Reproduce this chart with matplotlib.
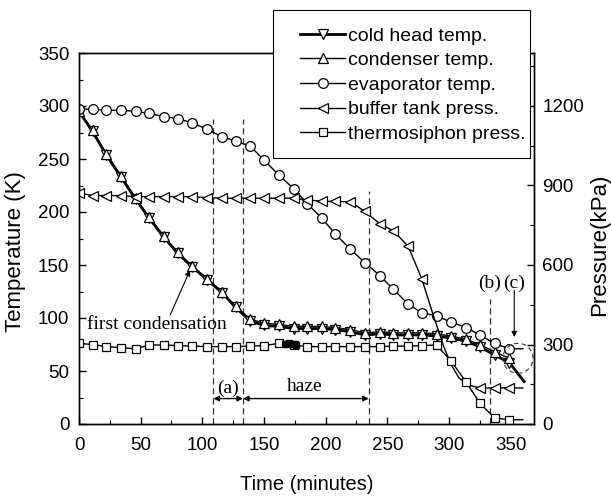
import matplotlib
matplotlib.use("Agg")
import matplotlib.pyplot as plt
from matplotlib.patches import Ellipse, Rectangle
from matplotlib.ticker import MultipleLocator

plt.rcParams['font.family'] = ['Liberation Sans', 'DejaVu Sans']

# ---------------- data ----------------
t_mark = [0, 11, 22, 34, 46, 57, 69, 80, 92, 104, 116, 127, 139, 150, 162, 174,
          185, 197, 208, 220, 232, 244, 255, 267, 278, 290, 302, 314, 325, 337, 349]

condenser_T = [295, 277, 255, 234, 213, 195, 177, 162, 149, 137, 125, 111, 99, 95, 94, 92,
               92, 92, 91, 89, 86, 87, 86, 86, 86, 85, 83, 80, 75, 68, 62]

coldhead_t = t_mark + [361]
coldhead_T = [295, 276, 254, 233, 212, 194, 176, 161, 148, 136, 124, 110, 97, 93, 92, 90,
              90, 90, 89, 87, 84, 85, 84, 84, 84, 83, 81, 78, 73, 65, 58, 40]

evap_t = t_mark + [360]
evap_T = [297, 297, 296, 296, 295, 293, 290, 288, 284, 278, 271, 267, 262, 249, 235, 222,
          208, 194, 179, 165, 152, 140, 127, 113, 105, 102, 96, 91, 84, 76, 71, 71]

buffer_t = [0, 11, 22, 34, 46, 57, 69, 80, 92, 104, 116, 127, 139, 150, 162, 174,
            185, 197, 208, 220, 232, 244, 255, 267, 278,
            287, 296, 302, 308, 315,
            325, 337, 349, 360]
buffer_P = [872, 862, 862, 862, 858, 858, 858, 858, 858, 854, 852, 852, 852, 852, 852, 852,
            846, 840, 840, 838, 802, 755, 729, 670, 548,
            415, 290, 222, 175, 148,
            136, 136, 136, 136]
buffer_marked = list(range(0, 25)) + [30, 31, 32]

thermo_t = t_mark + [360]
thermo_P = [304, 300, 292, 288, 284, 298, 298, 296, 294, 292, 292, 292, 294, 296, 304, 298,
            292, 292, 292, 292, 292, 292, 294, 294, 296, 298, 236, 158, 79, 23, 16, 16]
thermo_fill_t = [167, 170, 173, 176]
thermo_fill_P = [302, 305, 303, 300]

events = [109, 133, 235, 333]          # (a) start, (a) end/haze start, haze end, (b)
event_top = [288, 288, 220, 118]

# ---------------- figure ----------------
W, H = 611, 497
fig = plt.figure(figsize=(W / 100, H / 100), dpi=100)
L, R, T, B = 79, 534, 53, 424
ax = fig.add_axes([L / W, (H - B) / H, (R - L) / W, (B - T) / H])
ax2 = ax.twinx()

ms = 7
mk = dict(markerfacecolor='white', markeredgecolor='black', markeredgewidth=0.9, color='black')

h1, = ax.plot(coldhead_t, coldhead_T, marker='v', markersize=ms, lw=2.0,
              markevery=list(range(len(t_mark))), label='cold head temp.', **mk)
h2, = ax.plot(t_mark, condenser_T, marker='^', markersize=ms, lw=1.0,
              label='condenser temp.', **mk)
h3, = ax.plot(evap_t, evap_T, marker='o', markersize=ms, lw=1.0,
              markevery=list(range(len(t_mark))), label='evaporator temp.', **mk)
h4, = ax2.plot(buffer_t, buffer_P, marker='<', markersize=ms, lw=1.0,
               markevery=buffer_marked, label='buffer tank press.', **mk)
h5, = ax2.plot(thermo_t, thermo_P, marker='s', markersize=6, lw=1.0,
               markevery=list(range(len(t_mark))), label='thermosiphon press.', **mk)
ax2.plot(thermo_fill_t, thermo_fill_P, marker='s', markersize=4, lw=2, color='black',
         markerfacecolor='black', markeredgecolor='black')

ax.set_xlim(0, 369)
ax.set_ylim(0, 350)
ax2.set_ylim(0, 1400)

ax.xaxis.set_major_locator(MultipleLocator(50))
ax.xaxis.set_minor_locator(MultipleLocator(25))
ax.yaxis.set_major_locator(MultipleLocator(50))
ax.yaxis.set_minor_locator(MultipleLocator(25))
ax2.yaxis.set_major_locator(MultipleLocator(300))
ax2.yaxis.set_minor_locator(MultipleLocator(150))

ax.tick_params(axis='both', which='both', direction='in', top=False, right=False)
ax.tick_params(axis='both', which='major', length=5, width=1, labelsize=13.5)
ax.tick_params(axis='both', which='minor', length=3, width=0.8)
ax.tick_params(axis='x', which='major', pad=9)
ax.tick_params(axis='y', which='major', pad=7)
ax2.tick_params(axis='y', which='both', direction='in')
ax2.tick_params(axis='y', which='major', length=5, width=1, labelsize=13.5, pad=6)
ax2.tick_params(axis='y', which='minor', length=3, width=0.8)

for a in (ax, ax2):
    for s in a.spines.values():
        s.set_linewidth(1.0)

fig.text(306.5 / W, 1 - 485 / H, 'Time (minutes)', ha='center', va='center', fontsize=14.5)
fig.text(16 / W, 1 - 252 / H, 'Temperature (K)', ha='center', va='center',
         rotation=90, fontsize=16)
fig.text(600 / W, 1 - 245 / H, 'Pressure(kPa)', ha='center', va='center',
         rotation=90, fontsize=16)

# event lines
for x, top in zip(events, event_top):
    ax.plot([x, x], [0, top], ls=(0, (5, 3)), color='#333333', lw=0.9, zorder=1)

# arrows for (a) and haze
arr = dict(arrowstyle='<|-|>', color='black', lw=1.0, mutation_scale=8,
           shrinkA=0, shrinkB=0)
ax.annotate('', xy=(events[0], 24), xytext=(events[1], 24), arrowprops=arr)
ax.annotate('', xy=(events[1], 24), xytext=(events[2], 24), arrowprops=arr)

serif = ['Liberation Serif', 'DejaVu Serif']
ax.text(121, 34, '(a)', ha='center', va='center', fontsize=14, family=serif)
ax.text(183, 35, 'haze', ha='center', va='center', fontsize=14, family=serif)
ax.text(63, 93.5, 'first condensation', ha='center', va='center', fontsize=14, family=serif)
ax.text(333, 133, '(b)', ha='center', va='center', fontsize=14, family=serif)
ax.text(353, 133, '(c)', ha='center', va='center', fontsize=14, family=serif)

ax.annotate('', xy=(90, 145), xytext=(74, 103),
            arrowprops=dict(arrowstyle='-|>', color='black', lw=0.8, mutation_scale=8,
                            shrinkA=0, shrinkB=0))
ax.annotate('', xy=(353, 82), xytext=(353, 126),
            arrowprops=dict(arrowstyle='-|>', color='black', lw=0.8, mutation_scale=8,
                            shrinkA=0, shrinkB=0))
ax.add_patch(Ellipse((356, 62), 24.4, 28.3, fill=False, ls=(0, (4, 3)),
                     edgecolor='#333333', lw=0.8, zorder=5))

# legend box (drawn at figure level, over the axes)
fig.add_artist(Rectangle((273 / W, 1 - 158 / H), (530 - 273) / W, (158 - 10) / H,
                         transform=fig.transFigure, facecolor='white',
                         edgecolor='black', lw=0.8, zorder=4))
leg = fig.legend(handles=[h1, h2, h3, h4, h5], loc='upper left',
                 bbox_to_anchor=(300 / W, 1 - 27 / H), bbox_transform=fig.transFigure,
                 borderaxespad=0, borderpad=0, fontsize=14, frameon=False,
                 handlelength=2.32, handletextpad=0.15, labelspacing=0.36)
leg.set_zorder(5)

fig.savefig('out.png', dpi=100)
